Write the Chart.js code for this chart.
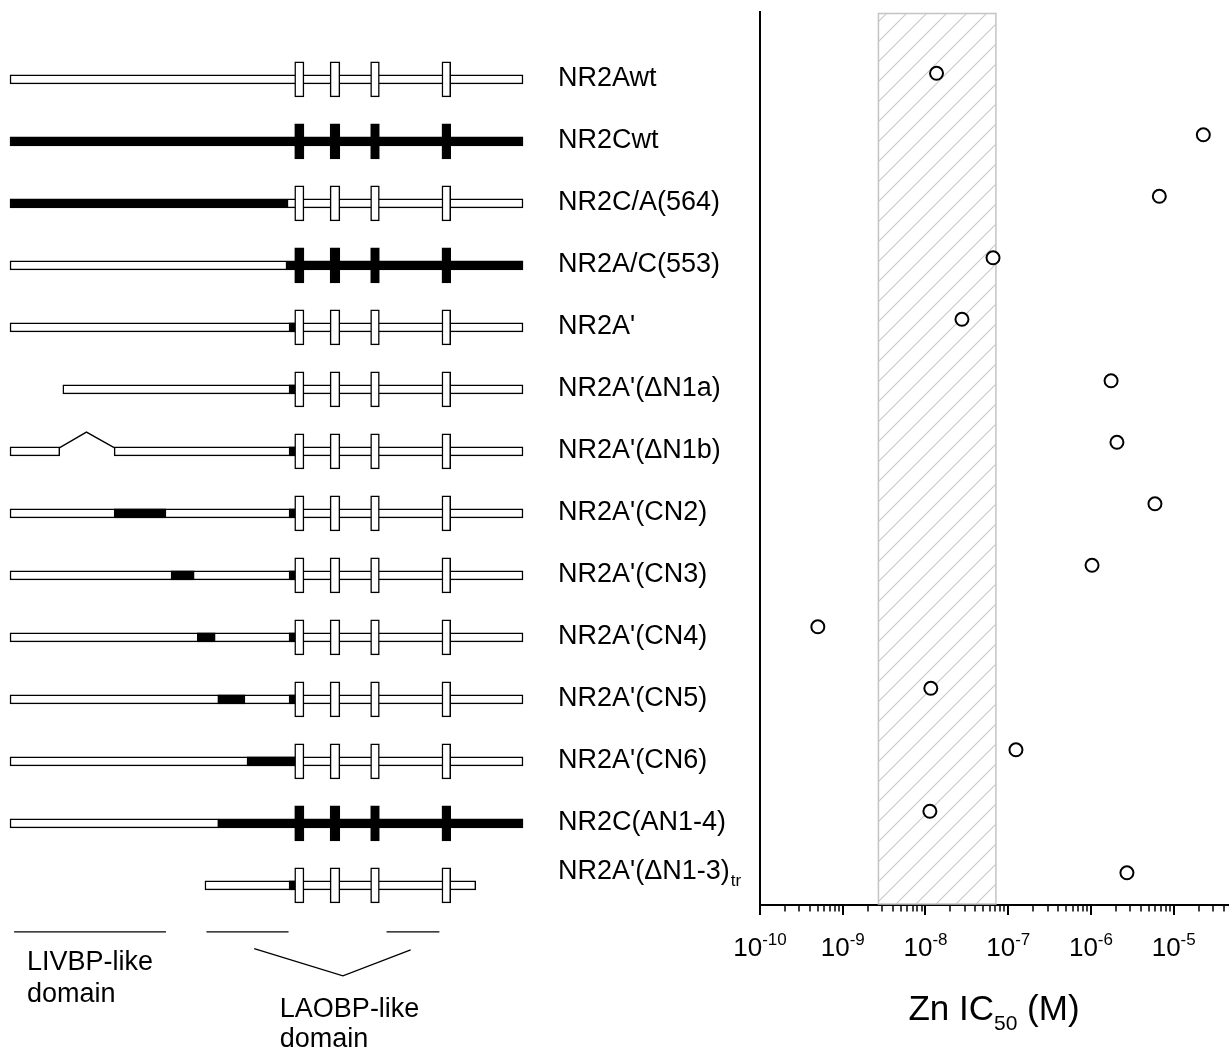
<!DOCTYPE html>
<html>
<head>
<meta charset="utf-8">
<title>Zn IC50 of NR2 subunit chimeras</title>
<script src="https://cdn.jsdelivr.net/npm/chart.js@4.4.1/dist/chart.umd.min.js"></script>
<style>
  html, body { margin: 0; padding: 0; background: #fff; }
  #wrap { position: relative; width: 1231px; height: 1055px; overflow: hidden; }
  #scheme { position: absolute; left: 0; top: 0; }
  #zinc { position: absolute; left: 700px; top: 0; }
</style>
</head>
<body>
<div id="wrap">
  <canvas id="scheme" width="760" height="1055"></canvas>
  <canvas id="zinc" width="531" height="1055"></canvas>
</div>
<script>
const constructs = [
  "NR2Awt", "NR2Cwt", "NR2C/A(564)", "NR2A/C(553)", "NR2A'",
  "NR2A'(\u0394N1a)", "NR2A'(\u0394N1b)", "NR2A'(CN2)", "NR2A'(CN3)", "NR2A'(CN4)",
  "NR2A'(CN5)", "NR2A'(CN6)", "NR2C(AN1-4)", "NR2A'(\u0394N1-3)"
];
const labelSubscripts = ['', '', '', '', '', '', '', '', '', '', '', '', '', 'tr'];

// Zn IC50 (M), one per construct
const znIC50 = [1.36e-8, 2.28e-5, 6.7e-6, 6.55e-8, 2.76e-8, 1.75e-6, 2.06e-6,
  5.93e-6, 1.03e-6, 5.0e-10, 1.16e-8, 1.24e-7, 1.13e-8, 2.72e-6];
const controlRange = [2.7e-9, 7.1e-8];
const decades = [-10, -9, -8, -7, -6, -5];
const minorSteps = [2, 3, 4, 5, 6, 7, 8, 9];

// schematic, in relative units along the subunit (0 = N-terminal end, 1000 = C-terminal end)
const whiteSeg = [[0, 1000], null, [540, 1000], [0, 540], [0, 1000], [103, 1000], [0, 97],
  [0, 1000], [0, 1000], [0, 1000], [0, 1000], [0, 1000], [0, 407], [380, 908]];
const whiteSeg2 = [null, null, null, null, null, null, [203, 1000],
  null, null, null, null, null, null, null];
const blackSeg = [null, [0, 1000], [0, 540], [540, 1000], [544, 555], [544, 555], [544, 555],
  [203, 304], [314, 359], [365, 400], [405, 458], [462, 555], [407, 1000], [544, 555]];
const blackSeg2 = [null, null, null, null, null, null, null,
  [544, 555], [544, 555], [544, 555], [544, 555], null, null, null];
const tmSegments = [[555, 573], [624, 643], [703, 720], [842, 859]];
const tmFilled = [false, true, false, true, false, false, false,
  false, false, false, false, false, true, false];
const deletionLoopX = [97, 149, 203];
const domainSpans = [[8, 304], [383, 543], [734, 837]];
const domainLinkX = [476, 649, 781];

const FONT = '"Liberation Sans", Arial, sans-serif';

function segData(list) {
  const out = [];
  list.forEach((seg, i) => { if (seg) out.push({ x: seg, y: i }); });
  return out;
}

const backbone = {
  type: 'bar', indexAxis: 'y', grouped: false, barThickness: 9,
  borderWidth: 1.5, borderColor: '#000', borderSkipped: false
};

const lineStyle = {
  type: 'line', borderColor: '#000', borderWidth: 1.3, pointRadius: 0,
  fill: false, tension: 0, order: 5
};

const schemeDatasets = [
  { ...backbone, data: segData(whiteSeg), backgroundColor: '#fff', order: 4 },
  { ...backbone, data: segData(whiteSeg2), backgroundColor: '#fff', order: 4 },
  { ...backbone, data: segData(blackSeg), backgroundColor: '#000', order: 3 },
  { ...backbone, data: segData(blackSeg2), backgroundColor: '#000', order: 3 },
  ...tmSegments.map(seg => ({
    ...backbone, barThickness: 35, order: 1,
    data: constructs.map((c, i) => ({ x: seg, y: i })),
    backgroundColor: tmFilled.map(f => f ? '#000' : '#fff')
  })),
  { ...lineStyle, data: deletionLoopX.map((x, k) => ({ x: x, y: k === 1 ? 5.69 : 5.94 })) },
  ...domainSpans.map(s => ({ ...lineStyle, data: [{ x: s[0], y: 13.75 }, { x: s[1], y: 13.75 }] })),
  { ...lineStyle, data: domainLinkX.map((x, k) => ({ x: x, y: [14.02, 14.46, 14.04][k] })) }
];

const rowLabels = {
  id: 'rowLabels',
  afterDraw(chart) {
    const { ctx, scales: { x, y } } = chart;
    const left = x.getPixelForValue(1000) + 35;
    ctx.save();
    ctx.fillStyle = '#000';
    ctx.textBaseline = 'alphabetic';
    constructs.forEach((name, i) => {
      const py = y.getPixelForValue(i);
      const sub = labelSubscripts[i];
      const base = sub ? py - 6 : py + 7;
      ctx.font = '27px ' + FONT;
      ctx.fillText(name, left, base);
      if (sub) {
        const w = ctx.measureText(name).width;
        ctx.font = '17px ' + FONT;
        ctx.fillText(sub, left + w + 1, base + 7);
      }
    });
    ctx.font = '27px ' + FONT;
    [['LIVBP-like', 33, 14.37], ['domain', 33, 14.88],
     ['LAOBP-like', 526, 15.12], ['domain', 526, 15.6]].forEach(([t, u, v]) => {
      ctx.fillText(t, x.getPixelForValue(u), y.getPixelForValue(v));
    });
    ctx.restore();
  }
};

new Chart(document.getElementById('scheme'), {
  type: 'bar',
  data: { datasets: schemeDatasets },
  options: {
    responsive: false,
    animation: false,
    indexAxis: 'y',
    events: [],
    layout: { padding: 0, autoPadding: false },
    scales: {
      x: { type: 'linear', display: false, offset: false, min: -19.49, max: 1462 },
      y: { type: 'linear', display: false, offset: false, min: -1.279, max: 15.737, reverse: true }
    },
    plugins: { legend: { display: false }, tooltip: { enabled: false } }
  },
  plugins: [rowLabels]
});

const controlBand = {
  id: 'controlBand',
  beforeDatasetsDraw(chart) {
    const { ctx, chartArea, scales: { x } } = chart;
    const left = x.getPixelForValue(controlRange[0]);
    const right = x.getPixelForValue(controlRange[1]);
    const top = chartArea.top + 1.5, bottom = chartArea.bottom - 1;
    const tile = document.createElement('canvas');
    tile.width = 20; tile.height = 20;
    const t = tile.getContext('2d');
    t.strokeStyle = '#c8c8c8';
    t.lineWidth = 1.1;
    [[-2, 22, 22, -2], [-2, 2, 2, -2], [18, 22, 22, 18]].forEach(([a, b, c, d]) => {
      t.beginPath(); t.moveTo(a, b); t.lineTo(c, d); t.stroke();
    });
    ctx.save();
    ctx.fillStyle = ctx.createPattern(tile, 'repeat');
    ctx.fillRect(left, top, right - left, bottom - top);
    ctx.strokeStyle = '#c4c4c4';
    ctx.lineWidth = 1.5;
    ctx.strokeRect(left, top, right - left, bottom - top);
    ctx.restore();
  }
};

const logAxis = {
  id: 'logAxis',
  afterDraw(chart) {
    const { ctx, chartArea, scales: { x } } = chart;
    const axisY = chartArea.bottom;
    ctx.save();
    ctx.strokeStyle = '#000';
    ctx.fillStyle = '#000';
    const tick = (v, len, w) => {
      const px = Math.round(x.getPixelForValue(v));
      ctx.lineWidth = w;
      ctx.beginPath(); ctx.moveTo(px, axisY); ctx.lineTo(px, axisY + len); ctx.stroke();
    };
    decades.forEach(d => {
      const major = Math.pow(10, d);
      tick(major, 10, 2);
      minorSteps.forEach(m => { if (m * major <= x.max) tick(m * major, 6.5, 1.5); });
      const px = x.getPixelForValue(major);
      ctx.font = '26px ' + FONT;
      const wb = ctx.measureText('10').width;
      ctx.font = '17px ' + FONT;
      const we = ctx.measureText(String(d)).width;
      const start = px - (wb + we) / 2;
      ctx.font = '26px ' + FONT;
      ctx.fillText('10', start, 956);
      ctx.font = '17px ' + FONT;
      ctx.fillText(String(d), start + wb, 945);
    });
    // axis title: Zn IC50 (M)
    const parts = [['Zn IC', 35, 1020], ['50', 21, 1030], [' (M)', 35, 1020]];
    const widths = parts.map(([s, f]) => { ctx.font = f + 'px ' + FONT; return ctx.measureText(s).width; });
    let cx = (chartArea.left + chartArea.right) / 2 - widths.reduce((a, b) => a + b, 0) / 2;
    parts.forEach(([s, f, b], k) => {
      ctx.font = f + 'px ' + FONT;
      ctx.fillText(s, cx, b);
      cx += widths[k];
    });
    ctx.restore();
  }
};

const hiddenGrid = { display: false, drawTicks: false, tickLength: 0 };

new Chart(document.getElementById('zinc'), {
  type: 'scatter',
  data: {
    datasets: [{
      data: znIC50.map((v, i) => ({ x: v, y: i })),
      pointStyle: 'circle',
      pointRadius: 6.5,
      pointBorderWidth: 2,
      pointBorderColor: '#000',
      pointBackgroundColor: '#fff'
    }]
  },
  options: {
    responsive: false,
    animation: false,
    events: [],
    layout: { padding: { left: 60, right: 3, top: 12, bottom: 150 }, autoPadding: false },
    scales: {
      x: {
        type: 'logarithmic', min: 1e-10, max: 4.53e-5,
        grid: hiddenGrid, ticks: { display: false },
        border: { display: true, color: '#000', width: 2 }
      },
      y: {
        type: 'linear', min: -0.997, max: 13.524, reverse: true,
        grid: hiddenGrid, ticks: { display: false },
        border: { display: true, color: '#000', width: 2 }
      }
    },
    plugins: { legend: { display: false }, tooltip: { enabled: false } }
  },
  plugins: [controlBand, logAxis]
});
</script>
</body>
</html>
